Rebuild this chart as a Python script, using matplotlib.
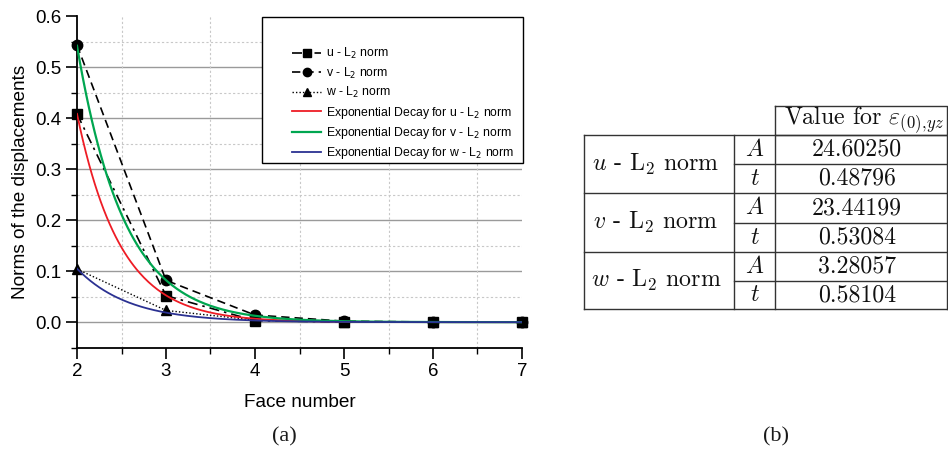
import numpy as np
import matplotlib
matplotlib.use("Agg")
import matplotlib.pyplot as plt
from matplotlib.patches import Rectangle
from matplotlib.ticker import MultipleLocator, FormatStrFormatter

plt.rcParams['font.family'] = ['Liberation Sans', 'DejaVu Sans']
plt.rcParams['mathtext.fontset'] = 'dejavusans'

# ---- data ----
faces = [2, 3, 4, 5, 6, 7]
u_norm = [0.408, 0.052, 0.003, 0.0005, 0.0001, 0.0]
v_norm = [0.543, 0.082, 0.014, 0.002, 0.0003, 0.0]
w_norm = [0.104, 0.023, 0.004, 0.001, 0.0002, 0.0]

# exponential decay fit parameters y = A * exp(-x / t)
fit_A = [24.60250, 23.44199, 3.28057]
fit_t = [0.48796, 0.53084, 0.58104]
fit_A_labels = ["24.60250", "23.44199", "3.28057"]
fit_t_labels = ["0.48796", "0.53084", "0.58104"]
row_names = [r"$u$ - L$_2$ norm", r"$v$ - L$_2$ norm", r"$w$ - L$_2$ norm"]
header = r"Value for $\varepsilon_{(0),\!yz}$"

W, H = 948, 453
fig = plt.figure(figsize=(W / 100, H / 100), dpi=100)

# overlay axes in pixel coordinates (for table and captions)
ov = fig.add_axes([0, 0, 1, 1])
ov.set_xlim(0, W)
ov.set_ylim(H, 0)
ov.axis('off')

L, R, T, B = 77, 522, 16, 347.7
ax = fig.add_axes([L / W, 1 - B / H, (R - L) / W, (B - T) / H])
ax.patch.set_alpha(0)

red, green, blue = '#ee1c25', '#00a650', '#2b3192'

xs = np.linspace(2, 7, 300)
curves = [A * np.exp(-xs / t) for A, t in zip(fit_A, fit_t)]

lu, = ax.plot(faces, u_norm, color='black', ls=(0, (6, 3, 1.5, 3)), lw=1.2,
              marker='s', ms=7, clip_on=False, zorder=3)
lv, = ax.plot(faces, v_norm, color='black', ls=(0, (5, 3)), lw=1.2,
              marker='o', ms=7.5, clip_on=False, zorder=3)
lw_, = ax.plot(faces, w_norm, color='black', ls=(0, (1, 1.5)), lw=1.0,
               marker='^', ms=7.5, clip_on=False, zorder=3)
fu, = ax.plot(xs, curves[0], color=red, lw=1.3, zorder=4)
fv, = ax.plot(xs, curves[1], color=green, lw=1.6, zorder=4)
fw, = ax.plot(xs, curves[2], color=blue, lw=1.3, zorder=4)

ax.set_xlim(2, 7)
ax.set_ylim(-0.05, 0.6)
ax.xaxis.set_major_locator(MultipleLocator(1))
ax.xaxis.set_minor_locator(MultipleLocator(0.5))
ax.yaxis.set_major_locator(MultipleLocator(0.1))
ax.yaxis.set_minor_locator(MultipleLocator(0.05))
ax.yaxis.set_major_formatter(FormatStrFormatter('%.1f'))

for s in ['top', 'right']:
    ax.spines[s].set_visible(False)
for s in ['left', 'bottom']:
    ax.spines[s].set_linewidth(1.3)
ax.tick_params(which='major', length=8, width=1.2, labelsize=13.5, direction='out', pad=3)
ax.tick_params(which='minor', length=4, width=1.0, direction='out')

# grid: solid gray at major y, dotted at minor y and minor x
for yv in np.arange(0.0, 0.51, 0.1):
    ax.axhline(yv, color='#9a9a9a', lw=1.0, zorder=1)
for yv in np.arange(0.05, 0.56, 0.1):
    ax.axhline(yv, color='#c8c8c8', lw=0.8, ls=(0, (2, 2)), zorder=1)
for xv in np.arange(2.5, 7, 1.0):
    ax.axvline(xv, color='#c8c8c8', lw=0.8, ls=(0, (2, 2)), zorder=1)

ax.set_xlabel('Face number', fontsize=13.7, labelpad=10)
ax.set_ylabel('Norms of the displacements', fontsize=13.7, labelpad=5)

# legend box
box = Rectangle(((262 - L) / (R - L), (B - 163) / (B - T)),
                (523 - 262) / (R - L), (163 - 17) / (B - T),
                transform=ax.transAxes, facecolor='white', edgecolor='black',
                lw=1.0, zorder=6, clip_on=False)
ax.add_patch(box)
leg = ax.legend([lu, lv, lw_, fu, fv, fw],
                ['u - L$_2$ norm', 'v - L$_2$ norm', 'w - L$_2$ norm',
                 'Exponential Decay for u - L$_2$ norm',
                 'Exponential Decay for v - L$_2$ norm',
                 'Exponential Decay for w - L$_2$ norm'],
                loc='upper left', bbox_to_anchor=((292 - L) / (R - L), (B - 46) / (B - T)),
                frameon=False, fontsize=8.8, handlelength=2.4, handletextpad=0.4,
                labelspacing=0.36, borderpad=0, borderaxespad=0, markerscale=0.8)
leg.set_zorder(7)

# captions
ov.text(284, 437, '(a)', family='Liberation Serif', fontsize=16, ha='center', va='center', color='#1a1a1a')
ov.text(776, 437, '(b)', family='Liberation Serif', fontsize=16, ha='center', va='center', color='#1a1a1a')

# table
c0, c1, c2, c3 = 584, 734, 775, 947
rows = [135, 164, 193, 223, 252, 281, 309]
htop = 106
lc = '#333333'
lwt = 1.0
# header cell
ov.plot([c2, c3, c3, c2, c2], [htop, htop, rows[0], rows[0], htop], color=lc, lw=lwt)
# outer body
ov.plot([c0, c3], [rows[0], rows[0]], color=lc, lw=lwt)
ov.plot([c0, c3], [rows[-1], rows[-1]], color=lc, lw=lwt)
for xv in [c0, c1, c2, c3]:
    ov.plot([xv, xv], [rows[0], rows[-1]], color=lc, lw=lwt)
for i in range(1, 6):
    if i % 2 == 0:
        ov.plot([c0, c3], [rows[i], rows[i]], color=lc, lw=lwt)
    else:
        ov.plot([c1, c3], [rows[i], rows[i]], color=lc, lw=lwt)

tkw = dict(family='cmr10', math_fontfamily='cm', fontsize=17.2, ha='center',
           va='center', color='#111111')
ov.text((c2 + c3) / 2 + 3, (htop + rows[0]) / 2 - 1, header, **tkw)
for i in range(3):
    r_top, r_mid, r_bot = rows[2 * i], rows[2 * i + 1], rows[2 * i + 2]
    ov.text((c0 + c1) / 2 - 3, (r_top + r_bot) / 2, row_names[i], **tkw)
    ov.text((c1 + c2) / 2, (r_top + r_mid) / 2, r"$A$", **tkw)
    ov.text((c1 + c2) / 2, (r_mid + r_bot) / 2, r"$t$", **tkw)
    ov.text((c2 + c3) / 2 - 4, (r_top + r_mid) / 2, fit_A_labels[i], **tkw)
    ov.text((c2 + c3) / 2 - 4, (r_mid + r_bot) / 2, fit_t_labels[i], **tkw)

fig.savefig('out.png', dpi=100)
